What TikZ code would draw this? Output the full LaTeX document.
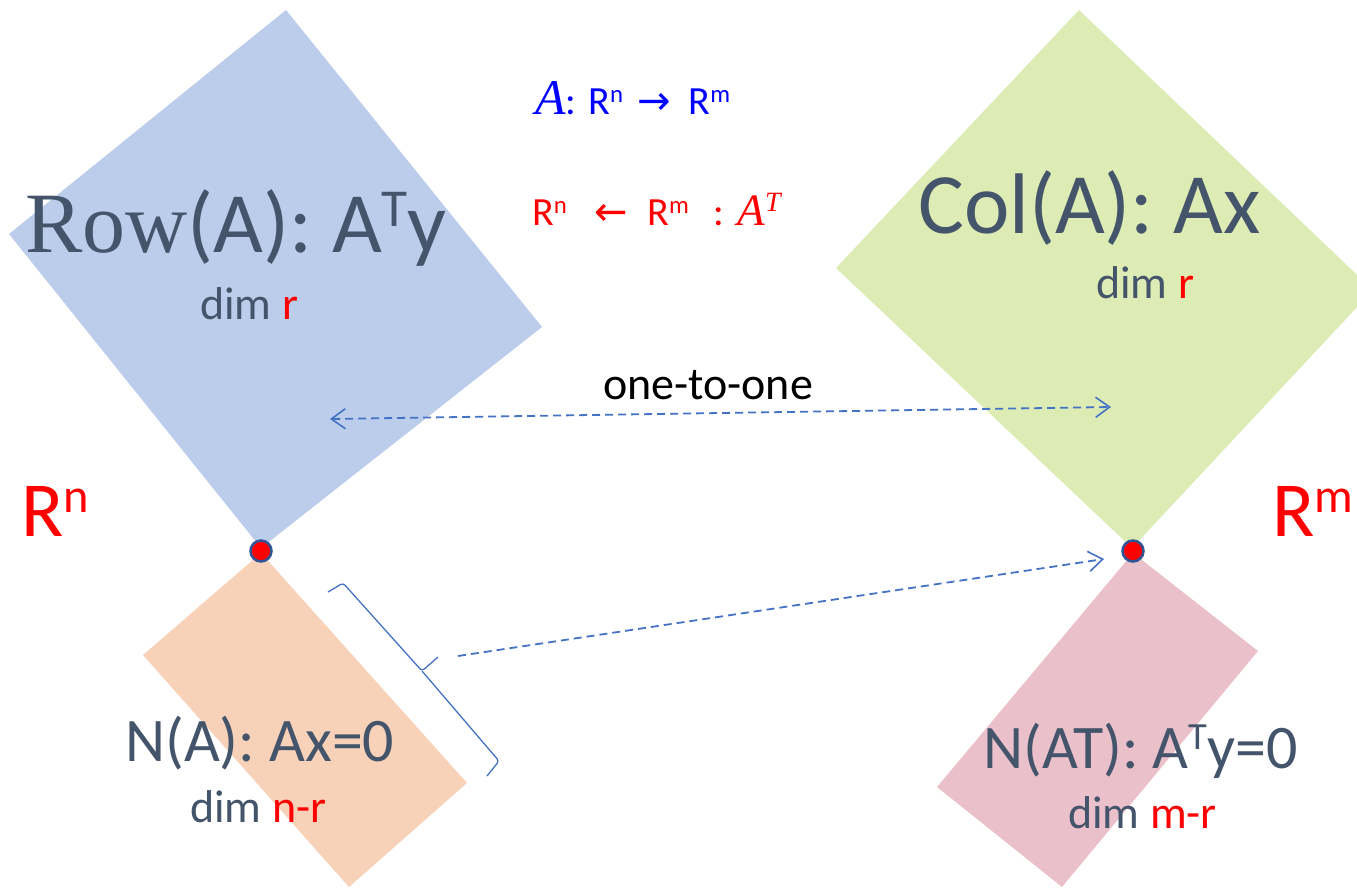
\documentclass[tikz,border=0pt]{standalone}
\usepackage{fontspec}
\setmainfont{Carlito}
\newfontfamily\rowserif{Liberation Serif}
\newfontfamily\arrowfont{DejaVu Sans}
\usepackage{graphicx}
\usepackage{tikz}
\usetikzlibrary{arrows.meta}
\definecolor{slate}{HTML}{44546A}
\definecolor{rowblue}{HTML}{BCCDEB}
\definecolor{colgreen}{HTML}{DDEBB4}
\definecolor{nullorange}{HTML}{F8D2B8}
\definecolor{leftpink}{HTML}{EAC0CB}
\definecolor{linkblue}{HTML}{4472C4}
\definecolor{dotrim}{HTML}{2F5597}
\definecolor{purered}{HTML}{FF0000}
\definecolor{pureblue}{HTML}{0000FF}

% raised, smaller letter
\newcommand{\upper}[1]{\raisebox{0.3em}{\scalebox{0.62}{#1}}}

\tikzset{
  spacetxt/.style={anchor=base west, inner sep=0pt, text=slate, font=\fontsize{86}{90}\selectfont},
  nulltxt/.style={anchor=base west, inner sep=0pt, text=slate, font=\fontsize{62}{66}\selectfont},
  dimtxt/.style={anchor=base west, inner sep=0pt, text=slate, font=\fontsize{46}{50}\selectfont},
  maptxt/.style={anchor=base west, inner sep=0pt, font=\fontsize{40}{44}\selectfont},
  rntxt/.style={anchor=base west, inner sep=0pt, text=purered, font=\fontsize{78}{82}\selectfont},
  origin/.style={circle, fill=purered, draw=dotrim, line width=2.5pt, minimum size=21pt, inner sep=0pt},
  link/.style={linkblue, line width=1.8pt, dash pattern=on 8pt off 5pt},
  barb/.tip={Straight Barb[length=14pt, width=20pt, line width=1.6pt]}
}

\begin{document}
\begin{tikzpicture}[x=1pt, y=-1pt]
  \useasboundingbox (0,0) rectangle (1357,887);
  \clip (0,0) rectangle (1357,887);

  % Subspaces
  \fill[rowblue] (286,10) -- (542,327) -- (261,548) -- (9,234) -- cycle;
  \fill[colgreen] (1079,10) -- (1373,290) -- (1132,548) -- (836,268) -- cycle;
  \fill[nullorange] (261,553) -- (467,783) -- (349,887) -- (143,655) -- cycle;
  \fill[leftpink] (1133,553) -- (1258,651) -- (1062,887) -- (937,787) -- cycle;

  % Space labels
  \node[spacetxt] (rowlbl) at (25,252) {{\rowserif Row}(A): A\upper{T}y};
  \node[dimtxt] (rowdim) at (200,319) {dim \textcolor{purered}{r}};
  \node[spacetxt] (collbl) at (918,233) {Col(A): Ax};
  \node[dimtxt] (coldim) at (1096,298) {dim \textcolor{purered}{r}};
  \node[nulltxt] (nulllbl) at (125,761) {N(A): Ax=0};
  \node[dimtxt] (nulldim) at (190,822) {dim \textcolor{purered}{n-r}};
  \node[nulltxt] (lnulllbl) at (983,768) {N(AT): A\upper{T}y=0};
  \node[dimtxt] (lnulldim) at (1068,828) {dim \textcolor{purered}{m-r}};

  % Whole spaces
  \node[rntxt] (rn) at (21,536) {R\upper{n}};
  \node[rntxt] (rm) at (1272,536) {R\upper{m}};

  % Maps
  \node[maptxt, text=pureblue] (fwd) at (535,114)
    {{\rowserif\itshape\fontsize{50}{52}\selectfont A}:\hspace{12pt}R\upper{n}\hspace{14pt}{\arrowfont→}\hspace{18pt}R\upper{m}};
  \node[maptxt, text=purered] (bwd) at (532,225)
    {R\upper{n}\hspace{28pt}{\arrowfont←}\hspace{19pt}R\upper{m}\hspace{24pt}:\hspace{14pt}{\rowserif\itshape\fontsize{45}{48}\selectfont A\upper{T}}};

  % One-to-one link
  \coordinate (rowend) at (330,419);
  \coordinate (colend) at (1111,407);
  \draw[link, barb-barb] (rowend) -- (colend);
  \node[dimtxt, anchor=base, text=black] (onetoone) at (708,399) {one-to-one};

  % Brace and link to origin
  \draw[linkblue, line width=1.3pt, rounded corners=3pt]
    (328,592) -- (343,583) -- (422,671) -- (438,657);
  \draw[linkblue, line width=1.3pt, rounded corners=3pt]
    (422,671) -- (499,761) -- (487,776);
  \coordinate (bracetip) at (458,656);
  \coordinate (lnullend) at (1104,559);
  \draw[link, -barb] (bracetip) -- (lnullend);

  % Origins
  \node[origin] (origL) at (261,551) {};
  \node[origin] (origR) at (1133,551) {};
\end{tikzpicture}
\end{document}
